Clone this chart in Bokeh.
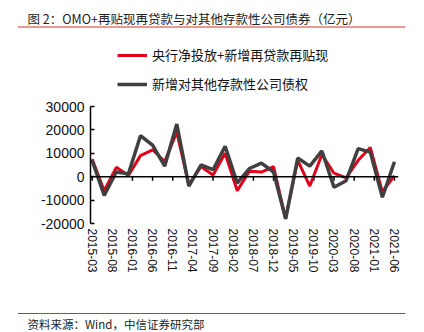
from bokeh.plotting import figure
from bokeh.models import (Range1d, FixedTicker, Span, Legend, LegendItem, Label)
from bokeh.layouts import column
from bokeh.embed import file_html
from bokeh.resources import INLINE

# ---------------- data ----------------
quarters = ["2015-03", "2015-06", "2015-09", "2015-12",
            "2016-03", "2016-06", "2016-09", "2016-12",
            "2017-03", "2017-06", "2017-09", "2017-12",
            "2018-03", "2018-06", "2018-09", "2018-12",
            "2019-03", "2019-06", "2019-09", "2019-12",
            "2020-03", "2020-06", "2020-09", "2020-12",
            "2021-03", "2021-06"]
pboc_net = [7500, -6000, 4000, 500,
            9000, 11500, 6500, 19000,
            -3500, 4300, 700, 10000,
            -6000, 2300, 2000, 4300,
            -18000, 7000, -4000, 9500,
            1500, -500, 7000, 12500,
            -6500, 500]
claims_odc = [7000, -8000, 2000, 1200,
              17500, 13500, 4500, 22500,
              -4000, 5000, 3000, 13000,
              -2700, 3500, 5800, 2000,
              -18000, 8000, 4500, 11000,
              -4500, -1700, 12000, 10500,
              -8800, 6400]
tick_labels = ["2015-03", "2015-08", "2016-01", "2016-06", "2016-11", "2017-04",
               "2017-09", "2018-02", "2018-07", "2018-12", "2019-05", "2019-10",
               "2020-03", "2020-08", "2021-01", "2021-06"]
y_ticks = [-20000, -10000, 0, 10000, 20000, 30000]
series_names = ["央行净投放+新增再贷款再贴现", "新增对其他存款性公司债权"]
title_text = "图 2：OMO+再贴现再贷款与对其他存款性公司债券（亿元）"
source_text = "资料来源：Wind，中信证券研究部"


def month_index(s):
    y, m = s.split("-")
    return (int(y) - 2015) * 12 + int(m) - 3


x = [month_index(q) for q in quarters]
tick_pos = [month_index(t) for t in tick_labels]

RED = "#E2001A"
GRAY = "#404040"
RULE = "#D9302A"
CJK = "Noto Sans CJK SC"
LAT = "Liberation Sans"


def strip(height):
    f = figure(width=424, height=height, x_range=Range1d(0, 1), y_range=Range1d(0, height),
               x_axis_type=None, y_axis_type=None, output_backend="svg",
               toolbar_location=None, min_border_left=17, min_border_right=19,
               min_border_top=0, min_border_bottom=0, frame_align=False)
    f.outline_line_color = None
    f.grid.visible = False
    return f


# ---------------- top strip (title) ----------------
top = strip(32)
top.add_layout(Span(location=5.5, dimension="width", line_color=RULE, line_width=1))
top.add_layout(Label(x=10, y=14, x_units="screen", y_units="screen", text=title_text,
                     text_font=CJK, text_font_size="12.5px", text_color="#222222",
                     text_baseline="middle"))

# ---------------- main chart ----------------
# plot area: value axis spans 117 px for -20000..30000; 70 px of free space above
# it holds the legend (inside the frame, so it is not clipped)
AXIS_PX = 117
HEAD_PX = 70
y_lo, y_hi = y_ticks[0], y_ticks[-1]
y_top = y_hi + HEAD_PX * (y_hi - y_lo) / AXIS_PX

p = figure(width=424, height=277, x_range=Range1d(-0.4, 76),
           y_range=Range1d(y_lo, y_top), output_backend="svg",
           toolbar_location=None, min_border_left=90, min_border_right=26,
           min_border_top=4, min_border_bottom=86, frame_align=False)
p.outline_line_color = None
p.xgrid.visible = False
p.ygrid.visible = False

p.xaxis.ticker = FixedTicker(ticks=tick_pos)
p.xaxis.major_label_overrides = {t: l for t, l in zip(tick_pos, tick_labels)}
p.xaxis.axis_line_color = None
p.xaxis.major_tick_line_color = None
p.xaxis.minor_tick_line_color = None
p.xaxis.major_tick_out = 0
p.xaxis.major_tick_in = 0
p.xaxis.major_label_orientation = "vertical"
p.xaxis.major_label_standoff = 5
p.xaxis.major_label_text_font = LAT
p.xaxis.major_label_text_font_size = "12px"
p.xaxis.major_label_text_color = "#111111"

p.yaxis.ticker = FixedTicker(ticks=y_ticks)
p.yaxis.bounds = (y_lo, y_hi)
p.yaxis.major_label_overrides = {v: str(v) for v in y_ticks}
p.yaxis.axis_line_color = "black"
p.yaxis.axis_line_width = 1.5
p.yaxis.major_tick_line_color = "black"
p.yaxis.major_tick_line_width = 1.5
p.yaxis.major_tick_in = 4
p.yaxis.major_tick_out = 0
p.yaxis.minor_tick_line_color = None
p.yaxis.major_label_standoff = 6
p.yaxis.major_label_text_font = LAT
p.yaxis.major_label_text_font_size = "14px"
p.yaxis.major_label_text_color = "#111111"

p.add_layout(Span(location=0, dimension="width", line_color="black", line_width=1.5))
p.segment(x0=tick_pos, y0=[0] * len(tick_pos), x1=tick_pos, y1=[-1700] * len(tick_pos),
          line_color="black", line_width=1.5)

r1 = p.line(x, pboc_net, line_color=RED, line_width=3)
r2 = p.line(x, claims_odc, line_color=GRAY, line_width=3.5)

legend = Legend(items=[LegendItem(label=series_names[0], renderers=[r1]),
                       LegendItem(label=series_names[1], renderers=[r2])],
                location=(27, 130), orientation="vertical",
                glyph_width=30, glyph_height=16, label_height=16, spacing=10,
                label_standoff=5, padding=0, margin=0,
                border_line_color=None, background_fill_alpha=0,
                label_text_font=CJK, label_text_font_size="13px",
                label_text_color="#111111")
p.add_layout(legend)

# ---------------- bottom strip (source) ----------------
bot = strip(23)
bot.add_layout(Span(location=19, dimension="width", line_color=RULE, line_width=1))
bot.add_layout(Label(x=10, y=8.5, x_units="screen", y_units="screen", text=source_text,
                     text_font=CJK, text_font_size="11.5px", text_color="#222222",
                     text_baseline="middle"))

layout = column(top, p, bot, spacing=0)
open("out.html", "w").write(file_html(layout, INLINE))
